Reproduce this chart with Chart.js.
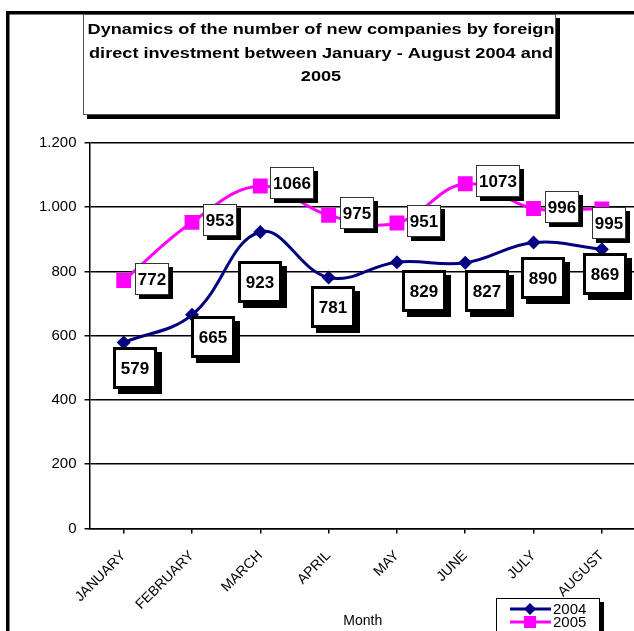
<!DOCTYPE html>
<html>
<head>
<meta charset="utf-8">
<script src="https://cdn.jsdelivr.net/npm/chart.js@4.4.0/dist/chart.umd.min.js"></script>
<style>
  html, body { margin: 0; padding: 0; background: #fff; overflow: hidden; }
  #wrap { position: absolute; left: 0; top: 0; width: 650px; height: 631px; }
</style>
</head>
<body>
<div id="wrap"><canvas id="chart"></canvas></div>
<script>
const FONT = '"Liberation Sans", Arial, sans-serif';

const months = ['JANUARY', 'FEBRUARY', 'MARCH', 'APRIL', 'MAY', 'JUNE', 'JULY', 'AUGUST'];
const values2004 = [579, 665, 923, 781, 829, 827, 890, 869];
const values2005 = [772, 953, 1066, 975, 951, 1073, 996, 995];
const seriesNames = ['2004', '2005'];
const xTitle = 'Month';
const titleLines = [
  'Dynamics of the number of new companies by foreign',
  'direct investment between January - August 2004 and',
  '2005'
];

// 1.200 style thousands
function fmt(v) {
  if (v >= 1000) return Math.floor(v / 1000) + '.' + String(v % 1000).padStart(3, '0');
  return String(v);
}

const frame = {
  id: 'frame',
  beforeDraw(chart) {
    const ctx = chart.ctx;
    ctx.save();
    ctx.fillStyle = '#000';
    ctx.fillRect(6, 11, 3.5, 640);
    ctx.fillRect(6, 11, 650, 3.5);
    // title box
    ctx.fillRect(87, 18, 473, 101);
    ctx.fillStyle = '#fff';
    ctx.fillRect(83, 14, 473, 101);
    ctx.strokeStyle = '#555';
    ctx.lineWidth = 1;
    ctx.strokeRect(83.5, 14.5, 472, 100);
    ctx.fillStyle = '#000';
    ctx.font = 'bold 15px ' + FONT;
    ctx.textAlign = 'center';
    ctx.textBaseline = 'middle';
    titleLines.forEach((t, i) => {
      ctx.save();
      ctx.translate(321, 30 + i * 23.5);
      ctx.scale(1.21, 1);
      ctx.fillText(t, 0, 0);
      ctx.restore();
    });
    ctx.restore();
  },
  afterDraw(chart) {
    const ctx = chart.ctx;
    const area = chart.chartArea;
    ctx.save();
    // axis title
    ctx.fillStyle = '#000';
    ctx.font = '14px ' + FONT;
    ctx.textAlign = 'center';
    ctx.textBaseline = 'middle';
    ctx.fillText(xTitle, (area.left + area.right) / 2, 621);
    // legend
    ctx.fillRect(500, 602, 104, 40);
    ctx.fillStyle = '#fff';
    ctx.fillRect(496, 598, 104, 40);
    ctx.strokeStyle = '#000';
    ctx.lineWidth = 1;
    ctx.strokeRect(496.5, 598.5, 103, 40);
    const ds = chart.data.datasets;
    ds.forEach((d, i) => {
      const y = 609 + i * 13;
      ctx.strokeStyle = d.borderColor;
      ctx.lineWidth = 3;
      ctx.beginPath(); ctx.moveTo(510, y); ctx.lineTo(551, y); ctx.stroke();
      ctx.fillStyle = d.borderColor;
      if (i === 0) {
        ctx.beginPath();
        ctx.moveTo(530, y - 6); ctx.lineTo(536, y); ctx.lineTo(530, y + 6); ctx.lineTo(524, y);
        ctx.closePath(); ctx.fill();
      } else {
        ctx.fillRect(524, y - 6, 12, 12);
      }
      ctx.fillStyle = '#000';
      ctx.font = '15px ' + FONT;
      ctx.textAlign = 'left';
      ctx.fillText(d.label, 553, y + 1);
    });
    ctx.restore();
  }
};

const boxLabels = {
  id: 'boxLabels',
  afterDatasetsDraw(chart, args, opts) {
    const ctx = chart.ctx;
    ctx.save();
    ctx.font = 'bold 17px ' + FONT;
    ctx.textAlign = 'center';
    ctx.textBaseline = 'middle';
    chart.data.datasets.forEach((ds, di) => {
      const st = opts.styles[di];
      chart.getDatasetMeta(di).data.forEach((pt, i) => {
        const off = st.offsets[i];
        const cx = pt.x + off[0], cy = pt.y + off[1];
        const txt = String(ds.data[i]);
        const w = Math.round(ctx.measureText(txt).width + st.padX * 2);
        const h = st.h;
        const x = Math.round(cx - w / 2), y = Math.round(cy - h / 2);
        ctx.fillStyle = '#000';
        ctx.fillRect(x + st.shadow, y + st.shadow, w, h);
        ctx.fillStyle = '#fff';
        ctx.fillRect(x, y, w, h);
        ctx.lineWidth = st.border;
        ctx.strokeStyle = st.borderColor;
        ctx.strokeRect(x + st.border / 2, y + st.border / 2, w - st.border, h - st.border);
        ctx.fillStyle = '#000';
        ctx.fillText(txt, x + w / 2, y + h / 2 + 1);
      });
    });
    ctx.restore();
  }
};

new Chart(document.getElementById('chart'), {
  type: 'line',
  data: {
    labels: months,
    datasets: [{
      label: seriesNames[0],
      data: values2004,
      borderColor: '#000080',
      backgroundColor: '#000080',
      borderWidth: 3,
      tension: 0.4,
      pointStyle: 'rectRot',
      pointRadius: 7,
      pointBorderWidth: 0
    }, {
      label: seriesNames[1],
      data: values2005,
      borderColor: '#ff00ff',
      backgroundColor: '#ff00ff',
      borderWidth: 3,
      tension: 0.4,
      pointStyle: 'rect',
      pointRadius: 10.5,
      pointBorderWidth: 0
    }]
  },
  options: {
    responsive: true,
    maintainAspectRatio: false,
    animation: false,
    layout: { padding: { top: 143, left: 31, right: 14, bottom: 4 } },
    plugins: {
      legend: { display: false },
      title: { display: false },
      tooltip: { enabled: false },
      boxLabels: {
        styles: [
          { offsets: [[11, 26], [21, 22], [0, 50], [4, 29], [27, 29], [22, 28], [9, 35], [3, 25]],
            padX: 8, h: 42, border: 3, borderColor: '#000', shadow: 5 },
          { offsets: [[28, -1], [28, -2], [32, -3], [28, -2], [27, -2], [33, -3], [28, -2], [7, 14]],
            padX: 3, h: 32, border: 1, borderColor: '#333', shadow: 4 }
        ]
      }
    },
    scales: {
      x: {
        offset: true,
        grid: { drawOnChartArea: false, drawTicks: true, tickLength: 5, color: '#000', lineWidth: 1.5 },
        border: { display: true, color: '#000', width: 1.5 },
        ticks: { color: '#000', font: { family: FONT, size: 14 }, minRotation: 45, maxRotation: 45, autoSkip: false, padding: 14 }
      },
      y: {
        min: 0,
        max: 1200,
        grid: { color: '#000', lineWidth: 1.5, tickLength: 5 },
        border: { display: true, color: '#000', width: 1.5 },
        ticks: { stepSize: 200, color: '#000', font: { family: FONT, size: 15 }, padding: 8, callback: v => fmt(v) }
      }
    }
  },
  plugins: [frame, boxLabels]
});
</script>
</body>
</html>
